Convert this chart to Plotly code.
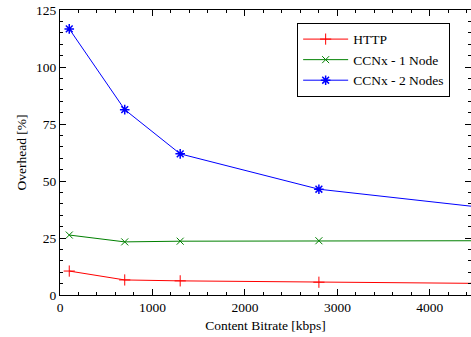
import plotly.graph_objects as go

bitrate = [100, 700, 1300, 2800, 4500]
http = [10.5, 6.6, 6.2, 5.6, 5.1]
ccnx1 = [26.3, 23.3, 23.6, 23.8, 23.8]
ccnx2 = [116.7, 81.3, 61.9, 46.4, 38.7]

font = "Liberation Serif"
fig = go.Figure()
fig.add_trace(go.Scatter(x=bitrate, y=http, name="HTTP", mode="lines+markers",
                         line=dict(color="#ff0000", width=1),
                         marker=dict(symbol="cross-thin", size=8, line=dict(color="#ff0000", width=1))))
fig.add_trace(go.Scatter(x=bitrate, y=ccnx1, name="CCNx - 1 Node", mode="lines+markers",
                         line=dict(color="#008000", width=1),
                         marker=dict(symbol="x-thin", size=7, line=dict(color="#008000", width=1))))
fig.add_trace(go.Scatter(x=bitrate, y=ccnx2, name="CCNx - 2 Nodes", mode="lines+markers",
                         line=dict(color="#0000ff", width=1),
                         marker=dict(symbol="asterisk-open", size=8, line=dict(color="#0000ff", width=1.5))))

axis_common = dict(showline=True, linecolor="black", linewidth=1, mirror="ticks",
                   ticks="inside", ticklen=6, tickcolor="black", showgrid=False, zeroline=False,
                   tickfont=dict(family=font, size=13.5, color="black"))
fig.update_xaxes(range=[0, 4445], dtick=1000, tick0=0,
                 minor=dict(ticks="inside", ticklen=3, dtick=200, tickcolor="black"),
                 title=dict(text="Content Bitrate [kbps]", font=dict(family=font, size=13.5, color="black"), standoff=6),
                 **axis_common)
fig.update_yaxes(range=[0, 125], dtick=25, tick0=0,
                 minor=dict(ticks="inside", ticklen=3, dtick=5, tickcolor="black"),
                 title=dict(text="Overhead [%]", font=dict(family=font, size=13.5, color="black"), standoff=6),
                 **axis_common)
fig.update_layout(width=471, height=337, margin=dict(l=60, r=0, t=10, b=42),
                  plot_bgcolor="white", paper_bgcolor="white",
                  font=dict(family=font, size=13.5, color="black"),
                  legend=dict(x=0.577, y=0.955, xanchor="left", yanchor="top",
                              bordercolor="black", borderwidth=1, bgcolor="white",
                              font=dict(family=font, size=13.5, color="black"),
                              tracegroupgap=0, itemwidth=45))
fig.write_html("out.html", config={"displayModeBar": False},
               post_script="document.body.style.margin='0';document.body.style.overflow='hidden';")
